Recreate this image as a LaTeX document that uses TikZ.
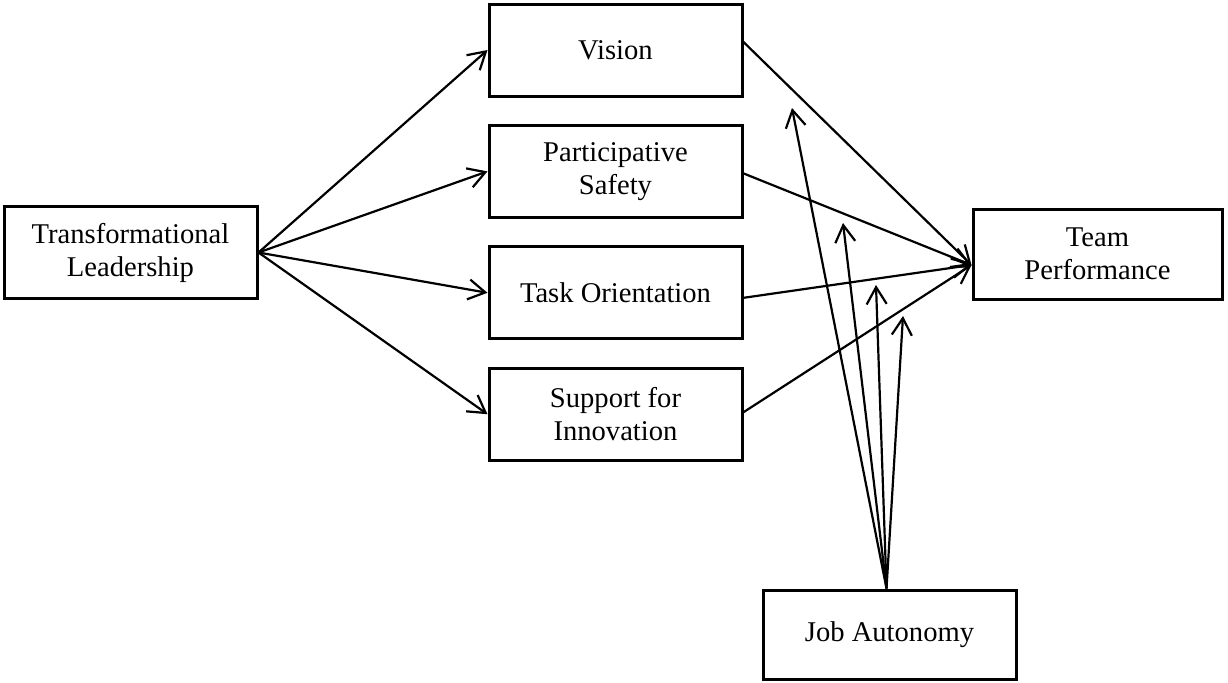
\documentclass[tikz,border=0pt]{standalone}
\usepackage{fontspec}
\setmainfont{Liberation Serif}
\usepackage{tikz}
\usetikzlibrary{arrows.meta, positioning, calc}
\tikzset{
  box/.style={rectangle, draw=black, line width=1.5pt, fill=white,
              minimum width=126.5pt, minimum height=46pt, inner sep=2pt,
              align=center, font=\fontsize{14.3}{16.5}\selectfont},
  arr/.style={-{Straight Barb[length=8.5pt, width=10pt]}, line width=1.1pt, black},
}

\begin{document}
\begin{tikzpicture}[x=0.5pt, y=-0.5pt, node distance=13.2pt and 116pt]
  \useasboundingbox (0,0) rectangle (1228,682);
  %% Predictor and the four team climate factors
  \node[box] (tl) at (130.5,252.5) {Transformational\\Leadership};
  \node[box] (vis) at (615.5,50) {Vision};
  \node[box, below=of vis] (ps) {Participative\\Safety};
  \node[box, below=of ps]  (to) {Task Orientation};
  \node[box, below=of to]  (si) {Support for\\Innovation};
  %% Outcome and moderator
  \node[box, minimum width=124.5pt, minimum height=45pt] (tp) at (1097.5,254) {Team\\Performance};
  \node[box, minimum height=44.5pt] (ja) at (889.5,634.5) {Job Autonomy};
  \coordinate (tpin) at ($(tp.west)+(0,11)$);
  %% Free ends of the moderation arrows
  \coordinate (m1) at (792,108);
  \coordinate (m2) at (843,223);
  \coordinate (m3) at (876,285);
  \coordinate (m4) at (903,316);
  \foreach \b in {vis,ps,to,si}
    \draw[arr] (tl.east) -- (\b.west);
  \foreach \a/\dy in {vis/-8,ps/2,to/5,si/-2}
    \draw[arr] ($(\a.east)+(0,\dy)$) -- (tpin);
  \foreach \m in {m1,m2,m3,m4}
    \draw[arr] ($(ja.north)+(-3,0)$) -- (\m);
\end{tikzpicture}
\end{document}
